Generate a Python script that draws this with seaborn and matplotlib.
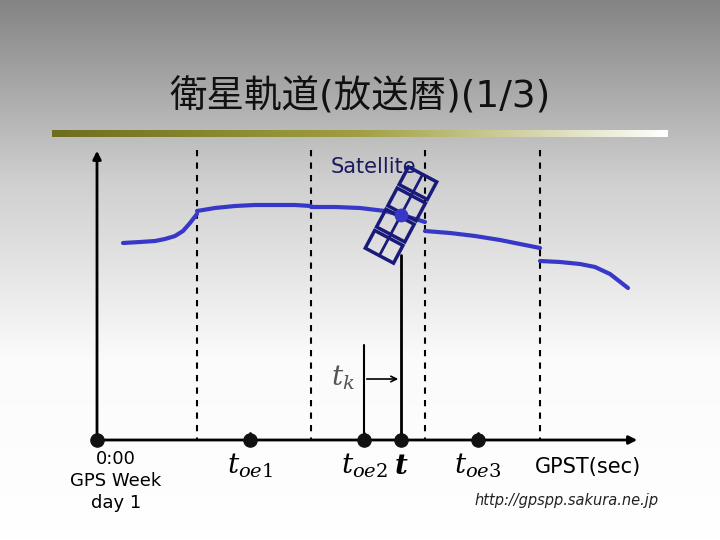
import numpy as np
import matplotlib.pyplot as plt
import matplotlib.patches as mpatches
import matplotlib.transforms as mtransforms
import seaborn as sns

# orbit pieces (pixel coordinates), split at each toe boundary
orbit_x = [[123, 140, 155, 165, 175, 183, 190, 197],
           [197, 215, 235, 255, 275, 295, 311],
           [311, 335, 360, 385, 400, 412, 425],
           [425, 450, 475, 500, 520, 540],
           [540, 560, 580, 595, 610, 628]]
orbit_y = [[243, 242, 241, 239, 236, 231, 223, 214],
           [211, 208, 206, 205, 205, 205, 206],
           [207, 207, 208, 211, 215, 218, 222],
           [231, 233, 236, 240, 244, 248],
           [261, 262, 264, 267, 274, 288]]
boundaries = [197, 311, 425, 540]
epoch_x = [97, 250, 364, 401, 478]
epoch_labels = ["", r"$t_{oe1}$", r"$t_{oe2}$", r"$\boldsymbol{t}$", r"$t_{oe3}$"]
sat_x, sat_y = 401, 215

sns.set_style("white")
plt.rcParams['font.family'] = ['DejaVu Sans', 'Noto Sans CJK JP']
plt.rcParams['mathtext.fontset'] = 'dejavuserif'

fig = plt.figure(figsize=(7.2, 5.4), dpi=100)
ax = fig.add_axes([0, 0, 1, 1])
ax.set_xlim(0, 720)
ax.set_ylim(540, 0)
ax.axis('off')

# background gradient
grad = np.linspace(0, 1, 256).reshape(-1, 1)
ax.imshow(grad, cmap=sns.blend_palette(["#848484", "#cfcfcf", "#fbfbfb", "#ffffff"], as_cmap=True),
          extent=[0, 720, 540, 0], aspect='auto', zorder=0)

ax.text(360, 97, "衛星軌道(放送暦)(1/3)", ha='center', va='center', fontsize=27,
        family=['DejaVu Sans', 'Noto Sans CJK JP'], color='#111111')
# underline bar
bar = np.linspace(0, 1, 256).reshape(1, -1)
ax.imshow(bar, cmap=sns.blend_palette(["#6e6e1e", "#a0a040", "#ffffff"], as_cmap=True),
          extent=[52, 668, 137, 130], aspect='auto', zorder=1)

# axes
ax.annotate("", xy=(640, 440), xytext=(97, 440),
            arrowprops=dict(arrowstyle='-|>', color='black', lw=2, mutation_scale=12))
ax.annotate("", xy=(97, 148), xytext=(97, 440),
            arrowprops=dict(arrowstyle='-|>', color='black', lw=2, mutation_scale=12))
for b in boundaries:
    ax.plot([b, b], [150, 440], color='black', lw=1.5, ls=(0, (3, 3)), zorder=2)

for xs, ys in zip(orbit_x, orbit_y):
    ax.plot(xs, ys, color='#3838c8', lw=3, zorder=3, solid_capstyle='round')

ax.scatter(epoch_x, [440] * len(epoch_x), s=90, color='#111111', zorder=4)
for x, lab in zip(epoch_x[1:], epoch_labels[1:]):
    ax.plot([x, x], [433, 440], color='black', lw=2)
    ax.text(x, 466, lab, ha='center', va='center', fontsize=20, color='black')

ax.text(116, 481, "0:00\nGPS Week\nday 1", ha='center', va='center', fontsize=13,
        linespacing=1.3, color='black')
ax.text(588, 467, "GPST(sec)", ha='center', va='center', fontsize=15, color='black')
ax.text(567, 500, "http://gpspp.sakura.ne.jp", ha='center', va='center', fontsize=10.5,
        style='italic', color='#222222')

# satellite drop line and tk
ax.plot([sat_x, sat_x], [255, 440], color='black', lw=2, zorder=2)
ax.plot([364, 364], [345, 440], color='black', lw=1.5, zorder=2)
ax.annotate("", xy=(sat_x, 379), xytext=(364, 379),
            arrowprops=dict(arrowstyle='->', color='black', lw=1.2))
ax.text(343, 378, r"$t_k$", ha='center', va='center', fontsize=20, color='#555555')

# satellite body and panels
ax.text(373, 167, "Satellite", ha='center', va='center', fontsize=15, color='#1a1a5e')
tr = mtransforms.Affine2D().rotate_deg_around(sat_x, sat_y, -62) + ax.transData
for dx in [-36, -12, 12, 36]:
    r = mpatches.Rectangle((sat_x + dx - 10, sat_y - 16), 20, 32, fill=False,
                           ec='#1a1a7a', lw=2.5, transform=tr, zorder=5)
    ax.add_patch(r)
ax.plot([sat_x - 46, sat_x + 46], [sat_y, sat_y], color='#1a1a7a', lw=2, transform=tr, zorder=5)
ax.scatter([sat_x], [sat_y], s=80, color='#3838c8', zorder=6)

fig.savefig("out.png", dpi=100)
